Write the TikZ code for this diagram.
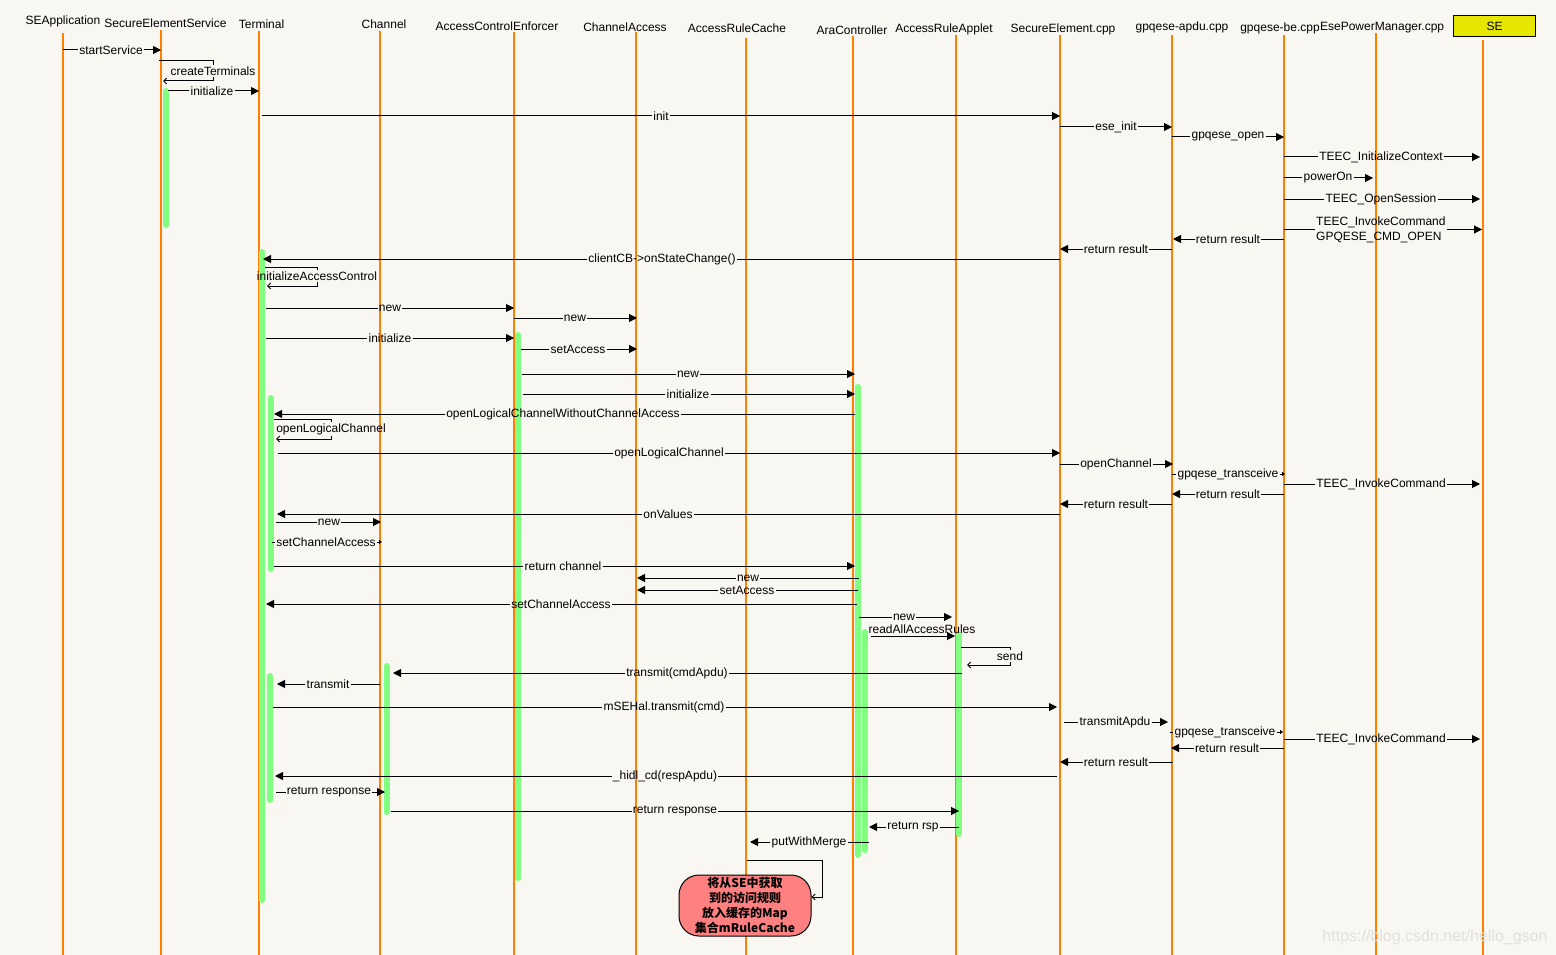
\documentclass[tikz,border=0pt]{standalone}
\usepackage{fontspec}
\setmainfont{Liberation Sans}
\newfontfamily\cjk{Noto Sans CJK SC}
\usetikzlibrary{arrows.meta}
\definecolor{bgc}{RGB}{249,247,241}
\definecolor{lifec}{RGB}{255,128,0}
\definecolor{actc}{RGB}{128,255,128}
\definecolor{sec}{RGB}{230,230,0}
\definecolor{notec}{RGB}{255,128,128}
\definecolor{wmc}{RGB}{226,224,219}
\newcommand\seqmsg[7]{%
  \node[lbl] (#1) at (#5,#2) {#6};
  \ifdim #3pt<#4pt
    \draw[msgline] (#3,#2) -- (#1.west);
    \draw[msgline,#7] (#1.east) -- (#4,#2);
  \else
    \draw[msgline] (#3,#2) -- (#1.east);
    \draw[msgline,#7] (#1.west) -- (#4,#2);
  \fi}
\begin{document}
\begin{tikzpicture}[x=1pt,y=-1pt,font=\fontsize{12}{14}\selectfont,
  hdr/.style={inner sep=0pt,text=black},
  sebox/.style={draw=black,line width=1pt,fill=sec,minimum width=82pt,minimum height=21pt,inner sep=0pt},
  life/.style={draw=lifec,line width=2pt},
  act/.style={draw=actc,line width=6pt,line cap=round},
  lbl/.style={inner sep=1pt,text=black},
  msgline/.style={draw=black,line width=1pt},
  tipbig/.style={-{Triangle[length=8pt,width=8pt]}},
  tipsmall/.style={-{Triangle[length=3pt,width=4pt]}},
  tipbarb/.style={-{Straight Barb[length=3pt,width=6pt]}},
  note/.style={draw=black,line width=1pt,fill=notec,rounded corners=20pt,minimum width=132pt,minimum height=61pt,inner sep=0pt,align=center,font=\cjk\bfseries\fontsize{12}{15}\selectfont}
]
\fill[bgc] (0,0) rectangle (1556,955);
\useasboundingbox (0,0) rectangle (1556,955);

% headers
\node[hdr] (hSEApp) at (63,21) {SEApplication};
\node[hdr] (hSES) at (165.5,23) {SecureElementService};
\node[hdr] (hTerm) at (261.5,24) {Terminal};
\node[hdr] (hChan) at (384,24) {Channel};
\node[hdr] (hACE) at (497,26) {AccessControlEnforcer};
\node[hdr] (hCA) at (625,27) {ChannelAccess};
\node[hdr] (hARC) at (737,28) {AccessRuleCache};
\node[hdr] (hAra) at (852,30) {AraController};
\node[hdr] (hARA) at (944,29) {AccessRuleApplet};
\node[hdr] (hSEcpp) at (1063,29) {SecureElement.cpp};
\node[hdr] (hApdu) at (1182,27) {gpqese-apdu.cpp};
\node[hdr] (hBe) at (1280,28) {gpqese-be.cpp};
\node[hdr,anchor=west] (hPM) at (hBe.east) {EsePowerManager.cpp};
\node[sebox] (hSE) at (1494.5,26.5) {SE};

% lifelines
\draw[life] (63,33) -- (63,955);
\draw[life] (161,30) -- (161,955);
\draw[life] (259,31) -- (259,955);
\draw[life] (380,31) -- (380,955);
\draw[life] (514,32) -- (514,955);
\draw[life] (636,32) -- (636,955);
\draw[life] (746,38) -- (746,955);
\draw[life] (853,36) -- (853,955);
\draw[life] (956,35) -- (956,955);
\draw[life] (1060,35) -- (1060,955);
\draw[life] (1172,35) -- (1172,955);
\draw[life] (1284,35) -- (1284,955);
\draw[life] (1376,33) -- (1376,955);
\draw[life] (1483,40) -- (1483,955);

% activation bars
\draw[act] (166,91) -- (166,225);
\draw[act] (262,252) -- (262,900);
\draw[act] (271,398) -- (271,569);
\draw[act] (270,676) -- (270,800);
\draw[act] (386.5,666) -- (386.5,812);
\draw[act] (518,335) -- (518,878);
\draw[act] (857.5,387) -- (857.5,855);
\draw[act] (865,632) -- (865,850);
\draw[act] (959,635) -- (959,834);

% messages
\seqmsg{m1}{50}{63}{161}{111}{startService}{tipbig}
\node[lbl] (s1) at (213,71) {createTerminals};
\draw[msgline] (159,61) -- (213,61) -- (s1.north);
\draw[msgline,tipbarb] (s1.south) -- (213,81) -- (163,81);
\seqmsg{m2}{91}{168}{259}{212}{initialize}{tipbig}
\seqmsg{m3}{116}{262}{1060}{661}{init}{tipbig}
\seqmsg{m4}{127}{1060}{1172}{1116}{ese\_init}{tipbig}
\seqmsg{m5}{137}{1172}{1284}{1228}{gpqese\_open}{tipbig}
\seqmsg{m6}{157}{1284}{1480}{1381}{TEEC\_InitializeContext}{tipbig}
\seqmsg{m7}{178}{1284}{1373}{1328}{powerOn}{tipbig}
\seqmsg{m8}{199}{1284}{1480}{1381}{TEEC\_OpenSession}{tipbig}
\node[lbl,align=left,anchor=west,font=\fontsize{12}{15}\selectfont] (m9) at (1315,229.5) {TEEC\_InvokeCommand\\GPQESE\_CMD\_OPEN};
\draw[msgline] (1284,229.5) -- (m9.west);
\draw[msgline,tipbig] (m9.east) -- (1482,229.5);
\seqmsg{m10}{239}{1284}{1173}{1228}{return result}{tipbig}
\seqmsg{m11}{249}{1172}{1060}{1116}{return result}{tipbig}
\seqmsg{m12}{259}{1060}{263}{662}{clientCB->onStateChange()}{tipbig}
\node[lbl] (s2) at (317,276) {initializeAccessControl};
\draw[msgline] (265,267) -- (317,267) -- (s2.north);
\draw[msgline,tipbarb] (s2.south) -- (317,286) -- (267,286);
\seqmsg{m13}{308}{266}{514}{390}{new}{tipbig}
\seqmsg{m14}{318}{514}{637}{575}{new}{tipbig}
\seqmsg{m15}{338}{266}{514}{390}{initialize}{tipbig}
\seqmsg{m16}{349}{521}{637}{578}{setAccess}{tipbig}
\seqmsg{m17}{374}{522}{855}{688}{new}{tipbig}
\seqmsg{m18}{394}{523}{855}{688}{initialize}{tipbig}
\seqmsg{m19}{414}{855}{274}{563}{openLogicalChannelWithoutChannelAccess}{tipbig}
\node[lbl] (s3) at (331,429) {openLogicalChannel};
\draw[msgline] (274,419) -- (331,419) -- (s3.north);
\draw[msgline,tipbarb] (s3.south) -- (331,439) -- (276,439);
\seqmsg{m20}{453}{278}{1060}{669}{openLogicalChannel}{tipbig}
\seqmsg{m21}{464}{1060}{1173}{1116}{openChannel}{tipbig}
\seqmsg{m22}{474}{1172}{1285}{1228}{gpqese\_transceive}{tipsmall}
\seqmsg{m23}{484}{1284}{1480}{1381}{TEEC\_InvokeCommand}{tipbig}
\seqmsg{m24}{494}{1284}{1172}{1228}{return result}{tipbig}
\seqmsg{m25}{504}{1172}{1060}{1116}{return result}{tipbig}
\seqmsg{m26}{514}{1060}{277}{668}{onValues}{tipbig}
\seqmsg{m27}{522}{276}{381}{329}{new}{tipbig}
\seqmsg{m28}{542}{272}{382}{326}{setChannelAccess}{tipsmall}
\seqmsg{m29}{566}{274}{855}{563}{return channel}{tipbig}
\seqmsg{m30}{578}{859}{637}{748}{new}{tipbig}
\seqmsg{m31}{590}{858}{637}{747}{setAccess}{tipbig}
\seqmsg{m32}{604}{857}{266}{561}{setChannelAccess}{tipbig}
\seqmsg{m33}{617}{859}{952}{904}{new}{tipbig}
\draw[msgline,tipbig] (871,636) -- (955,636);
\node[lbl] (m34) at (922,629) {readAllAccessRules};
\node[lbl] (s4) at (1010,656) {send};
\draw[msgline] (961,647) -- (1010,647) -- (s4.north);
\draw[msgline,tipbarb] (s4.south) -- (1010,665) -- (967,665);
\seqmsg{m35}{673}{962}{393}{677}{transmit(cmdApdu)}{tipbig}
\seqmsg{m36}{684}{380}{277}{328}{transmit}{tipbig}
\seqmsg{m37}{707}{273}{1057}{664}{mSEHal.transmit(cmd)}{tipbig}
\seqmsg{m38}{722}{1064}{1168}{1115}{transmitApdu}{tipbig}
\seqmsg{m39}{732}{1170}{1283}{1225}{gpqese\_transceive}{tipsmall}
\seqmsg{m40}{739}{1284}{1480}{1381}{TEEC\_InvokeCommand}{tipbig}
\seqmsg{m41}{748}{1284}{1171}{1227}{return result}{tipbig}
\seqmsg{m42}{762}{1173}{1060}{1116}{return result}{tipbig}
\seqmsg{m43}{776}{1057}{275}{665}{\_hidl\_cd(respApdu)}{tipbig}
\seqmsg{m44}{792}{276}{385}{329}{return response}{tipbig}
\seqmsg{m45}{811}{391}{959}{675}{return response}{tipbig}
\seqmsg{m46}{827}{959}{869}{913}{return rsp}{tipbig}
\seqmsg{m47}{842}{869}{750}{809}{putWithMerge}{tipbig}

% note
\node[note] (note) at (745,905.5) {将从SE中获取\\到的访问规则\\放入缓存的Map\\集合mRuleCache};
\coordinate (arcTap) at (747,860);
\draw[msgline,tipbarb] (arcTap) -- (822,860) -- (822,897) -- (note.east |- 0,897);

% watermark
\node[text=wmc,inner sep=0pt,font=\fontsize{16}{18}\selectfont] (wm) at (1435,937) {https://blog.csdn.net/hello\_gson};
\end{tikzpicture}
\end{document}
